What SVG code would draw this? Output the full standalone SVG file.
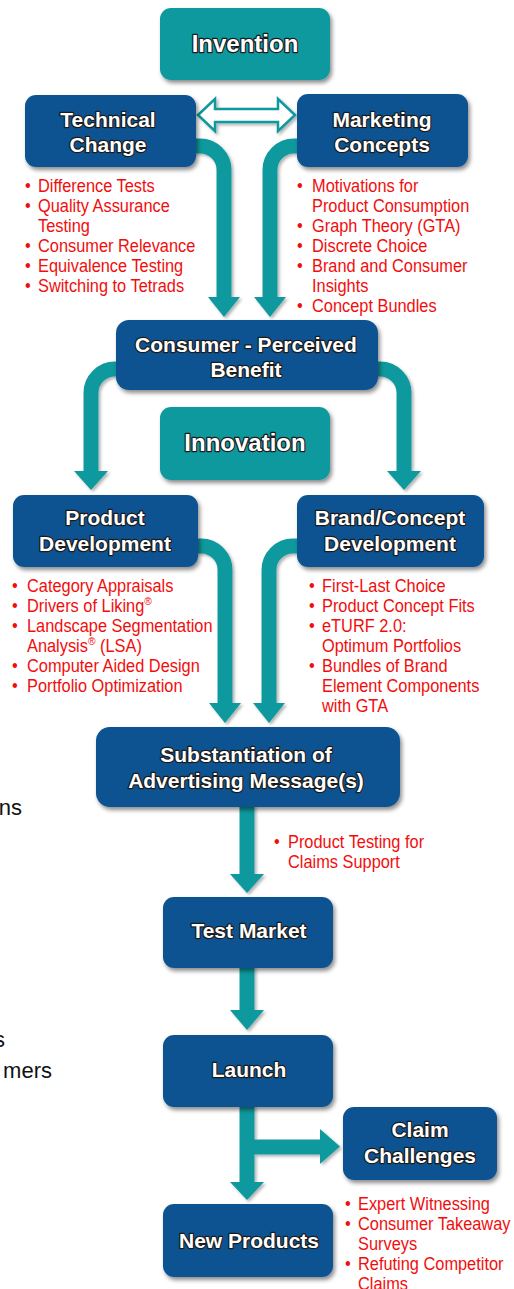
<svg xmlns="http://www.w3.org/2000/svg" width="514" height="1289" viewBox="0 0 514 1289">
  <defs>
    <filter id="shadow" x="-10%" y="-10%" width="130%" height="140%">
      <feDropShadow dx="2" dy="3" stdDeviation="2" flood-color="#000" flood-opacity="0.45"/>
    </filter>
    <filter id="softshadow" x="-10%" y="-10%" width="130%" height="130%">
      <feDropShadow dx="2" dy="2" stdDeviation="1.5" flood-color="#000" flood-opacity="0.3"/>
    </filter>
  </defs>
  <style>
    .blue { fill: #0b5391; filter: url(#shadow); }
    .teal { fill: #11999d; filter: url(#shadow); }
    .label { font-family: "Liberation Sans", Arial, sans-serif; font-weight: bold; font-size: 21px; fill: #fff; stroke: #1b1b1b; stroke-width: 2.4; stroke-linejoin: round; paint-order: stroke; text-anchor: middle; }
    .big { font-size: 24px; }
    .shaft { fill: none; stroke: #11999d; stroke-width: 15; }
    .head { fill: #11999d; }
    .note { font-family: "Liberation Sans", Arial, sans-serif; font-size: 17.5px; fill: #f20d0d; }
    .frag { font-family: "Liberation Sans", Arial, sans-serif; font-size: 22px; fill: #111; }
    .sup { font-size: 11px; }
  </style>
  <rect width="514" height="1289" fill="#fff"/>

  <!-- connectors -->
  <g id="connectors" filter="url(#softshadow)">
    <!-- two-way link between Technical Change and Marketing Concepts -->
    <polygon points="198,115 215,99 215,109 278,109 278,99 295,115 278,131 278,122 215,122 215,131" fill="#fff" stroke="#11999d" stroke-width="2.5" stroke-linejoin="miter"/>
    <!-- Technical Change / Marketing Concepts to Consumer-Perceived Benefit -->
    <path class="shaft" d="M190,146 H200 A24,24 0 0 1 224,170 V298"/>
    <polygon class="head" points="208,297 240,297 224,317"/>
    <path class="shaft" d="M304,146 H294 A24,24 0 0 0 270,170 V298"/>
    <polygon class="head" points="254,297 286,297 270,317"/>
    <!-- Consumer-Perceived Benefit to the two development boxes -->
    <path class="shaft" d="M122,369 H115 A24,24 0 0 0 91,393 V472"/>
    <polygon class="head" points="74,471 108,471 91,490"/>
    <path class="shaft" d="M372,369 H380 A24,24 0 0 1 404,393 V472"/>
    <polygon class="head" points="387,471 421,471 404,490"/>
    <!-- development boxes to Substantiation -->
    <path class="shaft" d="M192,546 H201 A24,24 0 0 1 225,570 V704"/>
    <polygon class="head" points="209,703 241,703 225,723"/>
    <path class="shaft" d="M304,546 H293 A24,24 0 0 0 269,570 V704"/>
    <polygon class="head" points="253,703 285,703 269,723"/>
    <!-- main vertical chain -->
    <path class="shaft" d="M247,805 V875"/>
    <polygon class="head" points="230,874 264,874 247,893"/>
    <path class="shaft" d="M247,966 V1011"/>
    <polygon class="head" points="230,1010 264,1010 247,1030"/>
    <path class="shaft" d="M247,1105 V1183"/>
    <polygon class="head" points="230,1182 264,1182 247,1200"/>
    <!-- branch to Claim Challenges -->
    <path class="shaft" d="M247,1147 H321"/>
    <polygon class="head" points="320,1129 320,1164 340,1146.5"/>
  </g>

  <g id="invention">
    <rect class="teal" x="160" y="8" width="170" height="72" rx="11"/>
    <text class="label big" x="245" y="52">Invention</text>
  </g>

  <g id="technical-change">
    <rect class="blue" x="25" y="95" width="171" height="72" rx="11"/>
    <text class="label" x="108" y="127">Technical</text>
    <text class="label" x="108" y="152">Change</text>
    <g class="note" transform="matrix(0.935 0 0 1 38 0)">
      <text x="-14" y="192">•</text><text x="0" y="192">Difference Tests</text>
      <text x="-14" y="212">•</text><text x="0" y="212">Quality Assurance</text>
      <text x="0" y="232">Testing</text>
      <text x="-14" y="252">•</text><text x="0" y="252">Consumer Relevance</text>
      <text x="-14" y="272">•</text><text x="0" y="272">Equivalence Testing</text>
      <text x="-14" y="292">•</text><text x="0" y="292">Switching to Tetrads</text>
    </g>
  </g>

  <g id="marketing-concepts">
    <rect class="blue" x="297" y="94" width="171" height="73" rx="11"/>
    <text class="label" x="382" y="127">Marketing</text>
    <text class="label" x="382" y="152">Concepts</text>
    <g class="note" transform="matrix(0.935 0 0 1 312 0)">
      <text x="-16" y="192">•</text><text x="0" y="192">Motivations for</text>
      <text x="0" y="212">Product Consumption</text>
      <text x="-16" y="232">•</text><text x="0" y="232">Graph Theory (GTA)</text>
      <text x="-16" y="252">•</text><text x="0" y="252">Discrete Choice</text>
      <text x="-16" y="272">•</text><text x="0" y="272">Brand and Consumer</text>
      <text x="0" y="292">Insights</text>
      <text x="-16" y="312">•</text><text x="0" y="312">Concept Bundles</text>
    </g>
  </g>

  <g id="consumer-perceived-benefit">
    <rect class="blue" x="116" y="320" width="262" height="70" rx="13"/>
    <text class="label" x="246" y="352">Consumer - Perceived</text>
    <text class="label" x="246" y="377">Benefit</text>
  </g>

  <g id="innovation">
    <rect class="teal" x="160" y="407" width="170" height="73" rx="11"/>
    <text class="label big" x="245" y="451">Innovation</text>
  </g>

  <g id="product-development">
    <rect class="blue" x="13" y="495" width="185" height="72" rx="11"/>
    <text class="label" x="105" y="525">Product</text>
    <text class="label" x="105" y="551">Development</text>
    <g class="note" transform="matrix(0.935 0 0 1 27 0)">
      <text x="-16" y="592">•</text><text x="0" y="592">Category Appraisals</text>
      <text x="-16" y="612">•</text><text x="0" y="612">Drivers of Liking<tspan class="sup" dy="-7">®</tspan></text>
      <text x="-16" y="632">•</text><text x="0" y="632">Landscape Segmentation</text>
      <text x="0" y="652">Analysis<tspan class="sup" dy="-7">®</tspan><tspan dy="7"> (LSA)</tspan></text>
      <text x="-16" y="672">•</text><text x="0" y="672">Computer Aided Design</text>
      <text x="-16" y="692">•</text><text x="0" y="692">Portfolio Optimization</text>
    </g>
  </g>

  <g id="brand-concept-development">
    <rect class="blue" x="297" y="495" width="187" height="72" rx="11"/>
    <text class="label" x="390" y="525">Brand/Concept</text>
    <text class="label" x="390" y="551">Development</text>
    <g class="note" transform="matrix(0.935 0 0 1 322 0)">
      <text x="-14" y="592">•</text><text x="0" y="592">First-Last Choice</text>
      <text x="-14" y="612">•</text><text x="0" y="612">Product Concept Fits</text>
      <text x="-14" y="632">•</text><text x="0" y="632">eTURF 2.0:</text>
      <text x="0" y="652">Optimum Portfolios</text>
      <text x="-14" y="672">•</text><text x="0" y="672">Bundles of Brand</text>
      <text x="0" y="692">Element Components</text>
      <text x="0" y="712">with GTA</text>
    </g>
  </g>

  <g id="substantiation">
    <rect class="blue" x="96" y="727" width="304" height="80" rx="14"/>
    <text class="label" x="246" y="762">Substantiation of</text>
    <text class="label" x="246" y="788">Advertising Message(s)</text>
    <g class="note" transform="matrix(0.935 0 0 1 288 0)">
      <text x="-15" y="848">•</text><text x="0" y="848">Product Testing for</text>
      <text x="0" y="868">Claims Support</text>
    </g>
  </g>

  <g id="test-market">
    <rect class="blue" x="163" y="897" width="170" height="71" rx="11"/>
    <text class="label" x="249" y="938">Test Market</text>
  </g>

  <g id="launch">
    <rect class="blue" x="163" y="1035" width="170" height="72" rx="11"/>
    <text class="label" x="249" y="1077">Launch</text>
  </g>

  <g id="claim-challenges">
    <rect class="blue" x="343" y="1107" width="154" height="73" rx="11"/>
    <text class="label" x="420" y="1137">Claim</text>
    <text class="label" x="420" y="1163">Challenges</text>
    <g class="note" transform="matrix(0.935 0 0 1 358 0)">
      <text x="-14" y="1210">•</text><text x="0" y="1210">Expert Witnessing</text>
      <text x="-14" y="1230">•</text><text x="0" y="1230">Consumer Takeaway</text>
      <text x="0" y="1250">Surveys</text>
      <text x="-14" y="1270">•</text><text x="0" y="1270">Refuting Competitor</text>
      <text x="0" y="1290">Claims</text>
    </g>
  </g>

  <g id="new-products">
    <rect class="blue" x="163" y="1204" width="170" height="73" rx="11"/>
    <text class="label" x="249" y="1248">New Products</text>
  </g>

  <!-- text cut off at the left edge -->
  <g id="edge-text" class="frag">
    <text x="22" y="815" text-anchor="end">ns</text>
    <text x="5" y="1047" text-anchor="end">s</text>
    <text x="52" y="1078" text-anchor="end">mers</text>
  </g>
</svg>
